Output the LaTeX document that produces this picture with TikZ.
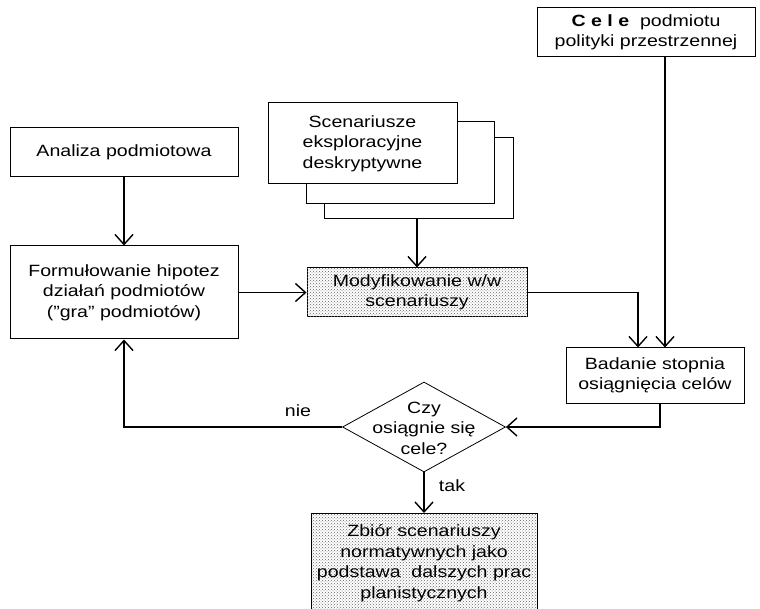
\documentclass[tikz,border=0pt]{standalone}
\usepackage{fontspec}
\setmainfont[FakeStretch=1.2]{Liberation Sans}
\usetikzlibrary{arrows.meta,shapes.geometric,patterns}

\begin{document}
\begin{tikzpicture}[x=1pt,y=-1pt,
  every node/.style={font=\fontsize{16.3}{20.5}\selectfont, align=center},
  box/.style={draw, line width=1pt, fill=white, inner sep=0pt},
  dotted box/.style={draw, line width=1pt, fill=white,
    postaction={pattern=crosshatch dots, pattern color=black!60}, inner sep=0pt},
  arr/.style={line width=1.7pt, -{Straight Barb[length=10pt,width=18pt,line width=1.4pt]}},
  lbl/.style={inner sep=0pt}]
\useasboundingbox (0,0) rectangle (760,609);

% left column
\node[box, minimum width=228, minimum height=49] (ana) at (124,152.5) {Analiza podmiotowa};
\node[box, minimum width=228, minimum height=93] (form) at (124,292.5)
  {Formułowanie hipotez\\działań podmiotów\\ (\symbol{34}gra\symbol{34} podmiotów)};

% stacked scenario sheets
\node[box, minimum width=189, minimum height=81] (sc3) at (418.5,178.5) {};
\node[box, minimum width=188, minimum height=82] (sc2) at (400,163) {};
\node[box, minimum width=189, minimum height=81] (sc1) at (362.5,143.5)
  {Scenariusze\\eksploracyjne\\deskryptywne};

\node[dotted box, minimum width=220, minimum height=49] (mod) at (417,292.5)
  {Modyfikowanie w/w\\scenariuszy};

% goals and evaluation
\node[box, minimum width=218, minimum height=49] (cele) at (646,32.5)
  {\textbf{C e l e}\ \ podmiotu\\polityki przestrzennej};
\node[box, minimum width=178, minimum height=55] (bad) at (655,375.5)
  {Badanie stopnia\\osiągnięcia celów};

% decision
\node[diamond, draw, line width=0.8pt, fill=white, minimum width=163,
  minimum height=90, inner sep=0pt] (dec) at (424,427) {};
\node[lbl] (dectxt) at (424,428) {Czy\\osiągnie się\\cele?};

% result sheet, running off the bottom edge
\fill[white, postaction={pattern=crosshatch dots, pattern color=black!60}]
  (311,513) rectangle (537,609);
\coordinate (zb) at (424,513);
\draw[line width=1pt] (311,609) -- (311,513) -- (537,513) -- (537,609);
\node[lbl] (zbtxt) at (424,563)
  {Zbiór scenariuszy\\normatywnych jako\\podstawa\ \ dalszych prac\\planistycznych};

% connectors
\draw[arr] (ana) -- (form);
\draw[arr] (form.east) -- (mod.west);
\draw[arr] (sc3.south -| mod.north) -- (mod.north);
\draw[arr] (mod.east) -| ([xshift=-17pt]bad.north);
\draw[arr] ([xshift=19pt]cele.south) -- ([xshift=10pt]bad.north);
\draw[arr] ([xshift=5pt]bad.south) |- (dec.east);
\draw[arr] (dec.west) -| (form.south);
\draw[arr] (dec.south) -- (zb);

\node[lbl] (nie) at (298,411) {nie};
\node[lbl] (tak) at (452,486) {tak};
\end{tikzpicture}
\end{document}
